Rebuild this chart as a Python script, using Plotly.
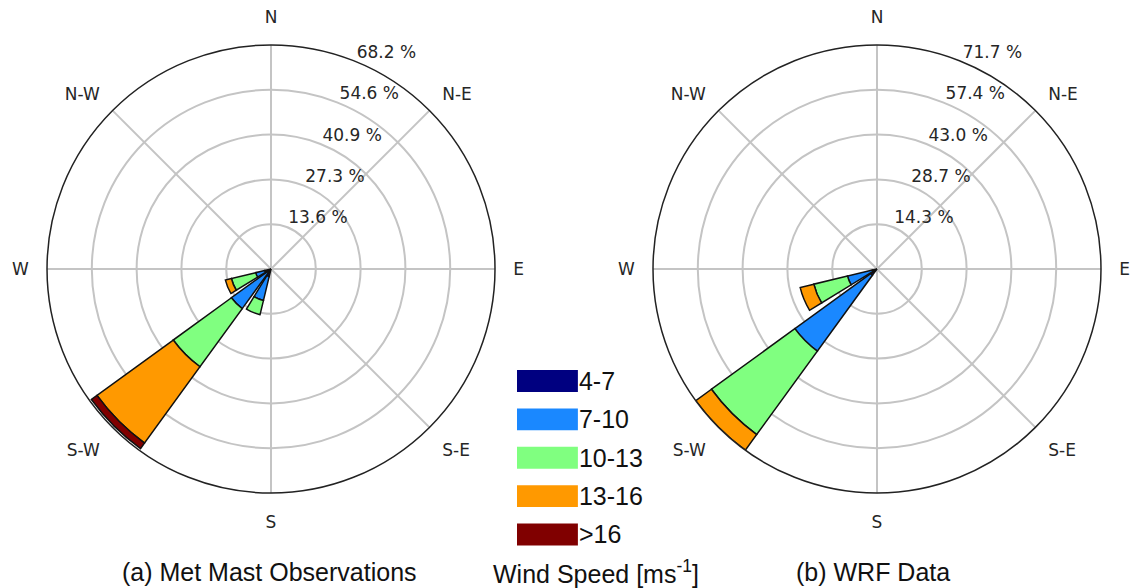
import plotly.graph_objects as go

# ---------------- data ----------------
bins = ["4-7", "7-10", "10-13", "13-16", ">16"]
bin_colors = ["#000080", "#1a88ff", "#80ff80", "#ff9900", "#800000"]

directions_deg = [202.5, 225.0, 247.5]  # SSW, SW, WSW

# (a) Met Mast Observations: frequency (%) per speed bin, per direction
mast_4_7 = [2.4, 1.2, 2.0]
mast_7_10 = [7.5, 13.7, 2.8]
mast_10_13 = [4.4, 21.9, 7.6]
mast_13_16 = [0.0, 28.7, 1.9]
mast_gt16 = [0.0, 2.1, 0.0]

# (b) WRF Data
wrf_4_7 = [0.0, 2.5, 1.5]
wrf_7_10 = [0.0, 30.0, 8.2]
wrf_10_13 = [0.0, 33.0, 11.1]
wrf_13_16 = [0.0, 6.2, 4.5]
wrf_gt16 = [0.0, 0.0, 0.0]

mast_rings = [13.64, 27.28, 40.92, 54.56, 68.2]
mast_ring_labels = ["13.6 %", "27.3 %", "40.9 %", "54.6 %", "68.2 %"]
wrf_rings = [14.34, 28.68, 43.02, 57.36, 71.7]
wrf_ring_labels = ["14.3 %", "28.7 %", "43.0 %", "57.4 %", "71.7 %"]
ring_label_bearing = 22.5

compass_deg = [0, 45, 90, 135, 180, 225, 270, 315]
compass_labels = ["N", "N-E", "E", "S-E", "S", "S-W", "W", "N-W"]

sector_width = 18.0  # 0.8 of a 22.5 deg sector

captions = ["(a) Met Mast Observations", "Wind Speed [ms<sup>-1</sup>]", "(b) WRF Data"]

# ---------------- figure ----------------
fig = go.Figure()
compass_font = dict(family="DejaVu Sans", size=17, color="#262626")
grid_col = "#c4c4c4"


def add_rose(series, rings, ring_labels, subplot):
    base = [0.0] * len(directions_deg)
    for vals, col, name in zip(series, bin_colors, bins):
        fig.add_trace(go.Barpolar(
            r=vals, theta=directions_deg, base=base[:], width=[sector_width] * len(vals),
            marker=dict(color=col, line=dict(color="#111111", width=1.5)),
            name=name, showlegend=False, subplot=subplot))
        base = [b + v for b, v in zip(base, vals)]
    # ring labels, anchored bottom-left at each ring (as in the windrose style)
    fig.add_trace(go.Scatterpolar(
        r=rings, theta=[ring_label_bearing] * len(rings), text=ring_labels,
        mode="text", textposition="top right", textfont=compass_font,
        cliponaxis=False, showlegend=False, hoverinfo="skip", subplot=subplot))


add_rose([mast_4_7, mast_7_10, mast_10_13, mast_13_16, mast_gt16],
         mast_rings, mast_ring_labels, "polar")
add_rose([wrf_4_7, wrf_7_10, wrf_10_13, wrf_13_16, wrf_gt16],
         wrf_rings, wrf_ring_labels, "polar2")

# legend drawn as swatches on a small cartesian axis
fig.add_trace(go.Bar(
    x=[1] * len(bins), y=bins, orientation="h", width=0.57,
    marker=dict(color=bin_colors, line=dict(width=0)),
    showlegend=False, hoverinfo="skip", xaxis="x", yaxis="y"))


def polar_layout(xdom, ydom, rings):
    return dict(
        domain=dict(x=xdom, y=ydom),
        bgcolor="white",
        radialaxis=dict(
            range=[0, rings[-1]], tickvals=rings, showticklabels=False,
            angle=67.5, showline=False, ticks="",
            gridcolor=grid_col, gridwidth=1.5,
            layer="above traces"),
        angularaxis=dict(
            rotation=90, direction="clockwise", tickmode="array",
            tickvals=compass_deg, ticktext=compass_labels,
            showline=True, linecolor="#222222", linewidth=1.5,
            gridcolor=grid_col, gridwidth=1.5, tickfont=compass_font,
            ticks="outside", ticklen=14, tickcolor="rgba(0,0,0,0)",
            layer="above traces"),
    )


fig.update_layout(
    width=1133, height=588,
    margin=dict(l=0, r=0, t=0, b=0),
    paper_bgcolor="white", plot_bgcolor="white",
    polar=polar_layout([0.0415, 0.4369], [0.1616, 0.9235], mast_rings),
    polar2=polar_layout([0.5763, 0.9718], [0.1616, 0.9235], wrf_rings),
    xaxis=dict(domain=[0.4563, 0.5101], range=[0, 1], visible=False, fixedrange=True),
    yaxis=dict(domain=[0.0583, 0.3847], side="right", autorange="reversed",
               showgrid=False, zeroline=False, showline=False, ticks="",
               tickfont=dict(family="Liberation Sans", size=25, color="#111111"),
               fixedrange=True),
)

cap_x = [0.2383, 0.5260, 0.7705]
for txt, x in zip(captions, cap_x):
    fig.add_annotation(text=txt, x=x, y=(588 - 572) / 588, xref="paper", yref="paper",
                       showarrow=False, xanchor="center", yanchor="middle",
                       font=dict(family="Liberation Sans", size=25, color="#111111"))

fig.write_html("out.html")
